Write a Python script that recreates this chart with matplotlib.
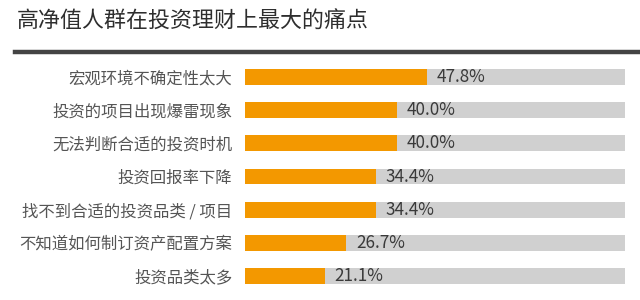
import matplotlib.pyplot as plt
from matplotlib.lines import Line2D

plt.rcParams['font.family'] = ['Noto Sans CJK SC', 'DejaVu Sans']

# 数据
categories = ['宏观环境不确定性太大', '投资的项目出现爆雷现象', '无法判断合适的投资时机',
              '投资回报率下降', '找不到合适的投资品类 / 项目', '不知道如何制订资产配置方案',
              '投资品类太多']
values = [47.8, 40.0, 40.0, 34.4, 34.4, 26.7, 21.1]
full = [100] * len(values)
value_labels = ['47.8%', '40.0%', '40.0%', '34.4%', '34.4%', '26.7%', '21.1%']

fig = plt.figure(figsize=(6.4, 3.0), dpi=100)
fig.patch.set_facecolor('white')

# 标题和分隔线
fig.text(17 / 640, 1 - 22 / 300, '高净值人群在投资理财上最大的痛点',
         fontsize=15.8, color='#2e2e2e', va='center', ha='left', fontweight='medium')
fig.add_artist(Line2D([15 / 640, 1.0], [1 - 52 / 300, 1 - 52 / 300],
                      color='#444444', linewidth=3.2))

ax = fig.add_axes([245 / 640, 1 - 292.6 / 300, 380 / 640, (292.6 - 60.4) / 300])
y = list(range(len(categories)))
ax.barh(y, full, height=0.48, color='#D0D0D0')
ax.barh(y, values, height=0.48, color='#F39800')

for i, (v, lab) in enumerate(zip(values, value_labels)):
    ax.text(v + 2.5, i, lab, va='center', ha='left', fontsize=12.3, color='#3a3a3a')

ax.set_xlim(0, 100)
ax.set_ylim(len(categories) - 0.5, -0.5)
ax.set_yticks(y)
ax.set_yticklabels(categories, fontsize=11.8, color='#555555')
ax.tick_params(axis='y', length=0, pad=9)
ax.set_xticks([])
for s in ax.spines.values():
    s.set_visible(False)

plt.savefig('out.png', dpi=100)
